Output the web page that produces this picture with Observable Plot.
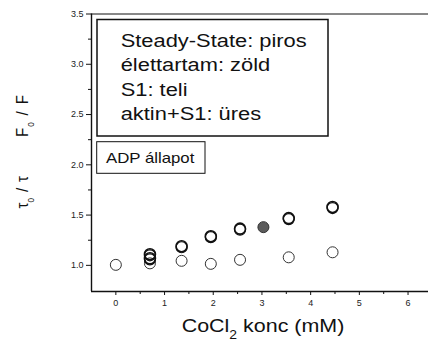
<!DOCTYPE html>
<html>
<head>
<meta charset="utf-8">
<script src="https://cdn.jsdelivr.net/npm/d3@7"></script>
<script src="https://cdn.jsdelivr.net/npm/@observablehq/plot@0.6"></script>
<style>
  html, body { margin: 0; padding: 0; background: #fff; }
  #chart { width: 428px; height: 343px; overflow: hidden; }
  svg text { font-family: "Liberation Sans", Arial, sans-serif; }
</style>
</head>
<body>
<div id="chart"></div>
<script>
// CoCl2 concentration (mM) and quenching ratios
const concSteady = [0.7, 0.7, 1.35, 1.95, 2.55, 3.55, 4.45];
const ratioSteady = [1.11, 1.07, 1.19, 1.29, 1.365, 1.47, 1.58];
const concS1 = [3.03];
const ratioS1 = [1.38];
const concLifetime = [0, 0.7, 1.35, 1.95, 2.55, 3.55, 4.45];
const ratioLifetime = [1.005, 1.02, 1.045, 1.015, 1.055, 1.08, 1.13];

// axes
const xDomain = [-0.5, 6.42];
const yDomain = [0.74, 3.5];
const xTicks = [0, 1, 2, 3, 4, 5, 6];
const xMinorTicks = [0.5, 1.5, 2.5, 3.5, 4.5, 5.5];
const yTicks = [1.0, 1.5, 2.0, 2.5, 3.0, 3.5];
const yMinorTicks = [1.25, 1.75, 2.25, 2.75, 3.25];

// texts
const legendLines = ["Steady-State: piros", "élettartam: zöld", "S1: teli", "aktin+S1: üres"];
const stateLabel = "ADP állapot";

const ink = "#111";

const plot = Plot.plot({
  width: 428,
  height: 343,
  marginLeft: 91,
  marginRight: 0,
  marginTop: 13.5,
  marginBottom: 52,
  x: {domain: xDomain},
  y: {domain: yDomain},
  style: {fontFamily: "'Liberation Sans', Arial, sans-serif", fontSize: "9px", color: "#222", background: "#fff"},
  marks: [
    Plot.axisY(yMinorTicks, {tickSize: 3, tickFormat: () => "", label: null, stroke: ink}),
    Plot.axisY(yTicks, {tickSize: 5, tickPadding: 3, tickFormat: d3.format(".1f"), label: null, stroke: ink}),
    Plot.axisX(xMinorTicks, {tickSize: 3, tickFormat: () => "", label: null, stroke: ink}),
    Plot.axisX(xTicks, {tickSize: 4, tickPadding: 4, label: null, stroke: ink}),
    Plot.ruleX([xDomain[0]], {stroke: ink, strokeWidth: 1.4}),
    Plot.ruleY([yDomain[0]], {stroke: ink, strokeWidth: 1.4}),
    Plot.ruleY([yDomain[1]], {stroke: ink, strokeWidth: 1}),
    // lifetime (open, thin)
    Plot.dot(concLifetime, {x: concLifetime, y: ratioLifetime, r: 5.5, stroke: "#333", strokeWidth: 1, fill: "none"}),
    // steady-state (open, heavy rim)
    Plot.dot(concSteady, {x: concSteady, y: ratioSteady, r: 5.5, dy: 1, stroke: ink, strokeWidth: 1.2, fill: "none"}),
    Plot.dot(concSteady, {x: concSteady, y: ratioSteady, r: 5.5, stroke: ink, strokeWidth: 1.6, fill: "none"}),
    // S1 (filled)
    Plot.dot(concS1, {x: concS1, y: ratioS1, r: 5.5, stroke: "#333", strokeWidth: 1, fill: "#5c5c5c"})
  ]
});

const svg = d3.select(plot);

// legend box
svg.append("rect")
  .attr("x", 97).attr("y", 19.5).attr("width", 231).attr("height", 116.5)
  .attr("fill", "#fff").attr("stroke", ink).attr("stroke-width", 1.5);
const baselines = [46.5, 71, 95.5, 120];
legendLines.forEach((line, i) => {
  svg.append("text")
    .attr("transform", `translate(120.7,${baselines[i]}) scale(1.17,1)`)
    .attr("text-anchor", "start")
    .attr("font-size", 18.7).attr("fill", ink)
    .text(line);
});

// state box
svg.append("rect")
  .attr("x", 96.7).attr("y", 141.7).attr("width", 108.3).attr("height", 31.6)
  .attr("fill", "#fff").attr("stroke", ink).attr("stroke-width", 1);
svg.append("text")
  .attr("transform", "translate(106,162.7) scale(1.2,1)")
  .attr("text-anchor", "start")
  .attr("font-size", 14).attr("fill", ink)
  .text(stateLabel);

// x axis title
const xt = svg.append("text")
  .attr("transform", "translate(263,332) scale(1.16,1)")
  .attr("text-anchor", "middle")
  .attr("font-size", 18.5).attr("fill", ink);
xt.append("tspan").text("CoCl");
xt.append("tspan").attr("dy", 6.5).attr("font-size", 12).text("2");
xt.append("tspan").attr("dy", -6.5).text(" konc (mM)");

// y axis title
const yt = svg.append("text")
  .attr("transform", "translate(27.5,208.5) scale(1.16,1) rotate(-90)")
  .attr("text-anchor", "start")
  .attr("font-size", 15).attr("fill", ink);
yt.append("tspan").text("τ");
yt.append("tspan").attr("dy", 6).attr("font-size", 8).text("0");
yt.append("tspan").attr("dy", -6).attr("dx", 6).text("/");
yt.append("tspan").attr("dx", 6).text("τ");
yt.append("tspan").attr("dx", 39).text("F");
yt.append("tspan").attr("dy", 6).attr("font-size", 8).attr("dx", 1).text("0");
yt.append("tspan").attr("dy", -6).attr("dx", 7).text("/");
yt.append("tspan").attr("dx", 7).text("F");

document.getElementById("chart").appendChild(plot);
</script>
</body>
</html>
